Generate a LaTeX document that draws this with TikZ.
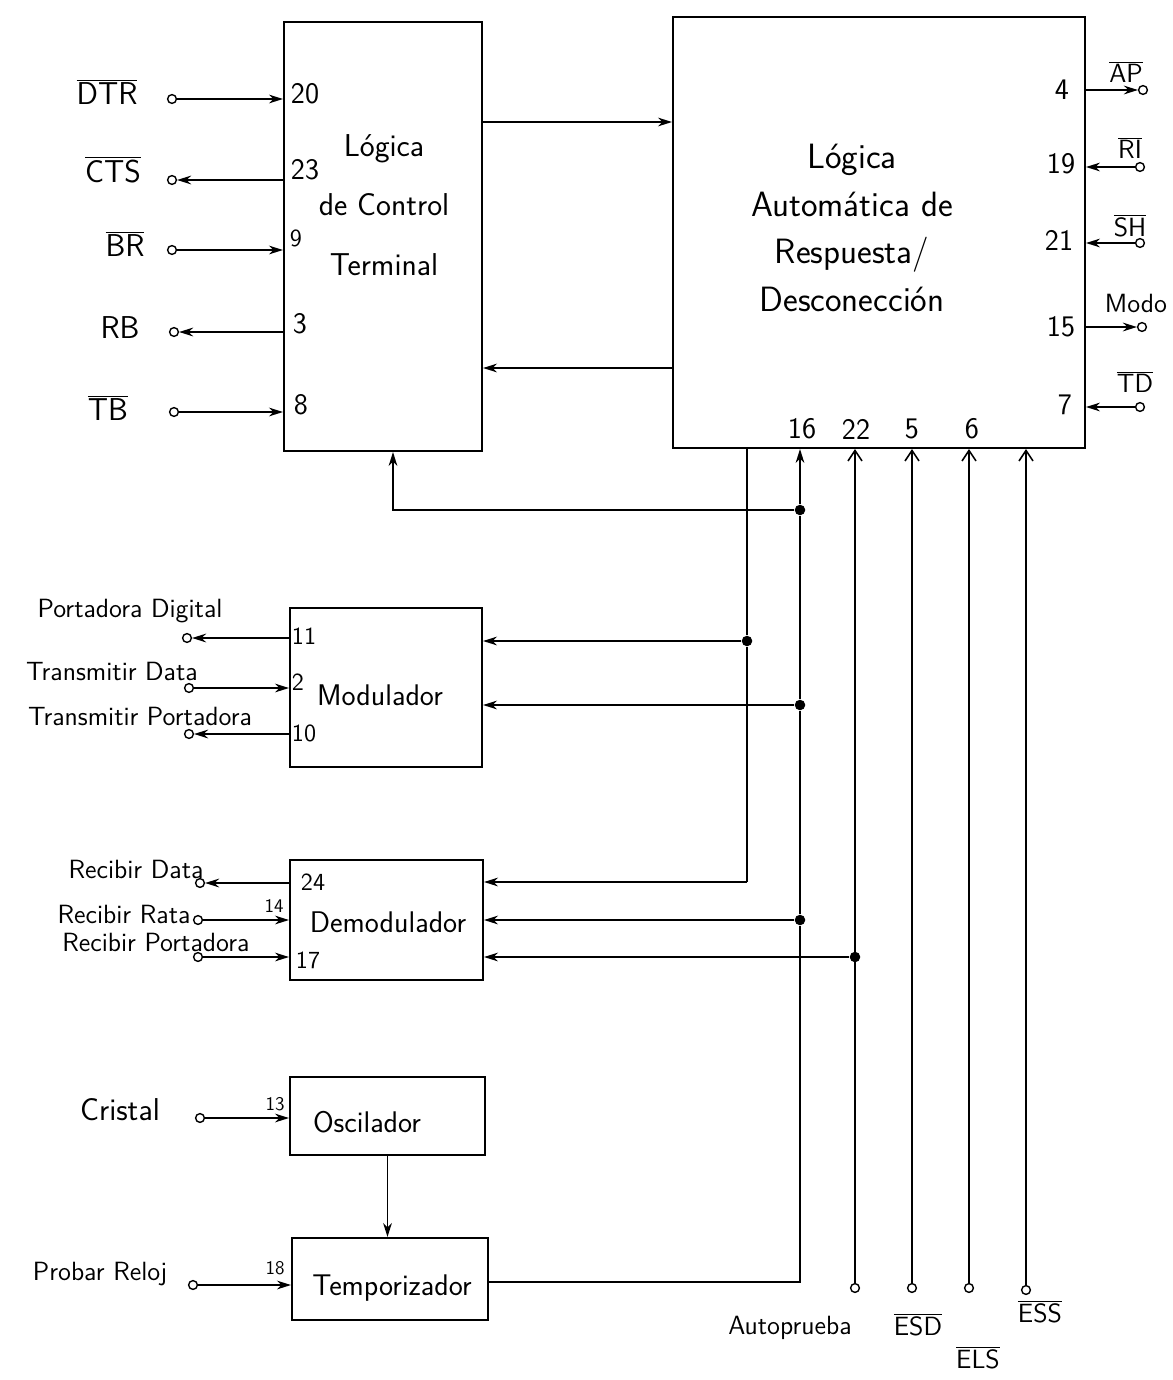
\documentclass[tikz,border=0pt]{standalone}
\usepackage{fontspec}
\usepackage{tikz}
\usetikzlibrary{arrows.meta, positioning, calc}
\newcommand{\ovl}[1]{$\overline{\hbox{#1}}$}

\begin{document}
\begin{tikzpicture}[x=0.02cm, y=-0.02cm, line width=0.9pt,
    >={Stealth[length=8pt,width=5pt]},
    blk/.style={draw, line width=1.2pt, inner sep=0},
    term/.style={circle, draw, fill=white, inner sep=0, minimum size=5pt, line width=0.8pt},
    dot/.style={circle, fill, inner sep=0, minimum size=6pt},
    txt/.style={font=\sffamily\fontsize{17}{34}\selectfont, align=center, inner sep=0},
    lbl/.style={font=\sffamily\fontsize{15}{18}\selectfont, inner sep=1pt},
    sig/.style={font=\sffamily\fontsize{18}{20}\selectfont, inner sep=1pt},
    pin/.style={font=\sffamily\fontsize{17}{19}\selectfont, inner sep=0},
    mpin/.style={font=\sffamily\fontsize{14}{16}\selectfont, inner sep=0},
    spin/.style={font=\sffamily\fontsize{11}{12}\selectfont, inner sep=0},
    barb/.style={-{Straight Barb[length=6pt,width=8pt]}}]

  \useasboundingbox (0,0) rectangle (1173,1380);

  % bloques
  \node[blk, minimum width=3.96cm, minimum height=8.58cm] (T) at (383,236.5) {};
  \node[blk, minimum width=8.24cm, minimum height=8.62cm] (A) at (879,232.5) {};
  \node[blk, minimum width=3.84cm, minimum height=3.18cm] (M) at (386,687.5) {};
  \node[blk, minimum width=3.86cm, minimum height=2.4cm] (D) at (386.5,920) {};
  \node[blk, minimum width=3.9cm, minimum height=1.56cm] (O) at (387.5,1116) {};
  \node[blk, minimum width=3.92cm, minimum height=1.64cm] (Tm) at (390,1279) {};

  \node[txt, font=\sffamily\fontsize{18}{34}\selectfont] (tTxt) at (384,205) {Lógica\\de Control\\Terminal};
  \node[txt, font=\sffamily\fontsize{20}{27}\selectfont] (aTxt) at (852,228)
    {Lógica\\Automática de\\Respuesta/\\Desconección};
  \node[txt] (mTxt) at (380,695) {Modulador};
  \node[txt] (dTxt) at (388,922) {Demodulador};
  \node[txt] (oTxt) at (367,1122) {Oscilador};
  \node[txt] (tmTxt) at (392,1288) {Temporizador};

  % terminal: lado izquierdo
  \node[term] (dtr) at (172,99) {};
  \node[term] (cts) at (172,180) {};
  \node[term] (br) at (172,250) {};
  \node[term] (rb) at (174,332) {};
  \node[term] (tb) at (174,412) {};
  \node[sig] (lDtr) at (107,92) {\ovl{DTR}};
  \node[sig] (lCts) at (113,170) {\ovl{CTS}};
  \node[sig] (lBr) at (125,244) {\ovl{BR}};
  \node[sig] (lRb) at (120,328) {RB};
  \node[sig] (lTb) at (108,408) {\ovl{TB}};
  \draw[->] (dtr) -- (dtr -| T.west);
  \draw[->] (cts -| T.west) -- (cts);
  \draw[->] (br) -- (br -| T.west);
  \draw[->] (rb -| T.west) -- (rb);
  \draw[->] (tb) -- (tb -| T.west);
  \node[pin] (n20) at (305,94) {20};
  \node[pin] (n23) at (305,170) {23};
  \node[mpin] (n9) at (296,238) {9};
  \node[pin] (n3) at (300,324) {3};
  \node[pin] (n8) at (301,405) {8};

  % entre terminal y logica automatica
  \coordinate (ta) at (482,122);
  \coordinate (at) at (673,368);
  \draw[->] (ta) -- (ta -| A.west);
  \draw[->] (at) -- (at -| T.east);

  % logica automatica: lado derecho
  \node[term] (ap) at (1143,90) {};
  \node[term] (ri) at (1140,167) {};
  \node[term] (sh) at (1140,243) {};
  \node[term] (modo) at (1142,327) {};
  \node[term] (td) at (1140,407) {};
  \draw[->] (ap -| A.east) -- (ap);
  \draw[->] (ri) -- (ri -| A.east);
  \draw[->] (sh) -- (sh -| A.east);
  \draw[->] (modo -| A.east) -- (modo);
  \draw[->] (td) -- (td -| A.east);
  \node[lbl] (lAp) at (1126,72) {\ovl{AP}};
  \node[lbl] (lRi) at (1130,148) {\ovl{RI}};
  \node[lbl] (lSh) at (1130,226) {\ovl{SH}};
  \node[lbl] (lModo) at (1136,303) {Modo};
  \node[lbl] (lTd) at (1135,382) {\ovl{TD}};
  \node[pin] (n4) at (1062,90) {4};
  \node[pin] (n19) at (1061,164) {19};
  \node[pin] (n21) at (1059,240) {21};
  \node[pin] (n15) at (1061,327) {15};
  \node[pin] (n7) at (1065,405) {7};
  \node[pin] (n16) at (802,429) {16};
  \node[pin] (n22) at (856,429) {22};
  \node[pin] (n5) at (912,429) {5};
  \node[pin] (n6) at (972,429) {6};

  % modulador
  \node[term] (pd) at (187,638) {};
  \node[term] (tdat) at (189,688) {};
  \node[term] (tp) at (189,734) {};
  \node[lbl] (lPd) at (130,611) {Portadora Digital};
  \node[lbl] (lTdat) at (112,671) {Transmitir Data};
  \node[lbl] (lTp) at (140,716) {Transmitir Portadora};
  \draw[->] (pd -| M.west) -- (pd);
  \draw[->] (tdat) -- (tdat -| M.west);
  \draw[->] (tp -| M.west) -- (tp);
  \node[mpin] (n11) at (304,636) {11};
  \node[mpin] (n2) at (298,682) {2};
  \node[mpin] (n10) at (304,733) {10};

  % demodulador
  \node[term] (rd) at (200,883) {};
  \node[term] (rr) at (198,920) {};
  \node[term] (rp) at (198,957) {};
  \node[lbl, anchor=east] (lRd) at (206,869) {Recibir Data};
  \node[lbl, anchor=east] (lRr) at (193,914) {Recibir Rata};
  \node[lbl, anchor=east] (lRp) at (252,942) {Recibir Portadora};
  \draw[->] (rd -| D.west) -- (rd);
  \draw[->] (rr) -- (rr -| D.west);
  \draw[->] (rp) -- (rp -| D.west);
  \node[mpin] (n24) at (313,882) {24};
  \node[spin] (n14) at (274,906) {14};
  \node[mpin] (n17) at (308,960) {17};

  % oscilador y temporizador
  \node[term] (cr) at (200,1118) {};
  \node[term] (prl) at (193,1285) {};
  \node[sig] (lCr) at (120,1110) {Cristal};
  \node[lbl] (lPrl) at (100,1274) {Probar Reloj};
  \draw[->] (cr) -- (cr -| O.west);
  \draw[->] (prl) -- (prl -| Tm.west);
  \draw[->] (O.south) -- (O.south |- Tm.north);
  \node[spin] (n13) at (275,1104) {13};
  \node[spin] (n18) at (275,1268) {18};

  % buses verticales
  \coordinate (s1) at (747,448);
  \node[dot] (j1) at (747,641) {};
  \coordinate (c1) at (747,882);
  \draw (s1) -- (j1) -- (c1);
  \draw[->] (j1) -- (j1 -| M.east);
  \draw[->] (c1) -- (c1 -| D.east);

  \node[dot] (j2) at (800,510) {};
  \node[dot] (j3) at (800,705) {};
  \node[dot] (j4) at (800,920) {};
  \coordinate (c2) at (800,1282);
  \coordinate (c3) at (393,510);
  \draw[->] (c2 -| Tm.east) -- (c2) -- (j4) -- (j3) -- (j2) -- (j2 |- A.south);
  \draw[->] (j2) -- (c3) -- (c3 |- T.south);
  \draw[->] (j3) -- (j3 -| M.east);
  \draw[->] (j4) -- (j4 -| D.east);

  \node[term] (auto) at (855,1288) {};
  \node[term] (esd) at (912,1288) {};
  \node[term] (els) at (969,1288) {};
  \node[term] (ess) at (1026,1290) {};
  \node[dot] (j5) at (855,957) {};
  \draw[barb] (auto) -- (auto |- A.south);
  \draw[barb] (esd) -- (esd |- A.south);
  \draw[barb] (els) -- (els |- A.south);
  \draw[barb] (ess) -- (ess |- A.south);
  \draw[->] (j5) -- (j5 -| D.east);
  \node[lbl] (lAuto) at (790,1328) {Autoprueba};
  \node[lbl] (lEsd) at (918,1325) {\ovl{ESD}};
  \node[lbl] (lEls) at (978,1358) {\ovl{ELS}};
  \node[lbl] (lEss) at (1040,1312) {\ovl{ESS}};
\end{tikzpicture}
\end{document}
